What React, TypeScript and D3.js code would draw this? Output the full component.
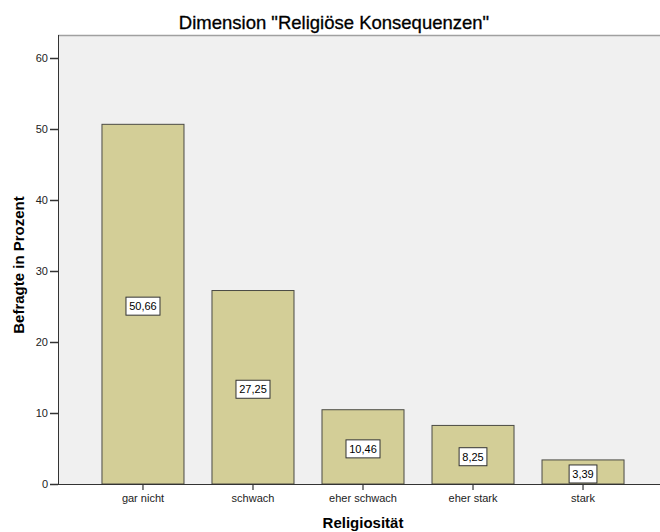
import React, { useEffect, useRef } from "react";
import * as d3 from "d3";

const categories = ["gar nicht", "schwach", "eher schwach", "eher stark", "stark"];
const values = [50.66, 27.25, 10.46, 8.25, 3.39];
const yTicks = [0, 10, 20, 30, 40, 50, 60];

const W = 660;
const H = 532;

export default function App() {
  const ref = useRef<SVGSVGElement>(null);

  useEffect(() => {
    const svg = d3.select(ref.current);
    svg.selectAll("*").remove();

    const left = 58;
    const top = 35;
    const bottom = 484;

    const y = d3.scaleLinear().domain([0, 60]).range([bottom, 58]);
    const x = d3
      .scaleBand()
      .domain(categories)
      .range([88, 638])
      .paddingInner(0.2545)
      .paddingOuter(0.127);

    // plot background
    svg
      .append("rect")
      .attr("x", left)
      .attr("y", top)
      .attr("width", W - left)
      .attr("height", bottom - top)
      .attr("fill", "#f0f0f0");
    svg
      .append("line")
      .attr("x1", left)
      .attr("x2", W)
      .attr("y1", top + 0.5)
      .attr("y2", top + 0.5)
      .attr("stroke", "#a0a0a0")
      .attr("stroke-width", 1.5);

    // bars
    const g = svg.append("g");
    g.selectAll("rect.bar")
      .data(values)
      .join("rect")
      .attr("class", "bar")
      .attr("x", (d, i) => x(categories[i])!)
      .attr("y", (d) => y(d))
      .attr("width", x.bandwidth())
      .attr("height", (d) => bottom - y(d))
      .attr("fill", "#d3ce97")
      .attr("stroke", "#4a4a44")
      .attr("stroke-width", 1);

    // value labels
    const fmt = (v: number) => v.toFixed(2).replace(".", ",");
    const lab = g
      .selectAll("g.lab")
      .data(values)
      .join("g")
      .attr("class", "lab")
      .attr(
        "transform",
        (d, i) => `translate(${x(categories[i])! + x.bandwidth() / 2},${(y(d) + bottom) / 2 + 2})`
      );
    lab.each(function (d) {
      const s = d3.select(this);
      const txt = fmt(d);
      const w = txt.length * 6.2 + 3;
      s.append("rect")
        .attr("x", -w / 2)
        .attr("y", -9)
        .attr("width", w)
        .attr("height", 18)
        .attr("fill", "#ffffff")
        .attr("stroke", "#333")
        .attr("stroke-width", 1);
      s.append("text")
        .attr("text-anchor", "middle")
        .attr("y", 4)
        .attr("font-family", "Arial, 'Liberation Sans', sans-serif")
        .attr("font-size", 11)
        .attr("fill", "#000")
        .text(txt);
    });

    // y axis
    const yAxis = svg
      .append("g")
      .attr("transform", `translate(${left},0)`)
      .call(d3.axisLeft(y).tickValues(yTicks).tickSize(8).tickPadding(2).tickSizeOuter(0));
    yAxis.select(".domain").attr("stroke", "#333").attr("d", `M0.5,${top}V${bottom}`);
    yAxis.selectAll(".tick line").attr("stroke", "#333").attr("stroke-width", 1.5);
    yAxis
      .selectAll("text")
      .attr("font-family", "Arial, 'Liberation Sans', sans-serif")
      .attr("font-size", 11)
      .attr("fill", "#222");

    // x axis
    const xAxis = svg
      .append("g")
      .attr("transform", `translate(0,${bottom})`)
      .call(d3.axisBottom(x).tickSize(6).tickPadding(4).tickSizeOuter(0));
    xAxis.select(".domain").attr("stroke", "#333").attr("d", `M${left},0.5H${W}`);
    xAxis.selectAll(".tick line").attr("stroke", "#333").attr("stroke-width", 1.2);
    xAxis
      .selectAll("text")
      .attr("font-family", "Arial, 'Liberation Sans', sans-serif")
      .attr("font-size", 11)
      .attr("fill", "#222");

    // title and axis labels
    svg
      .append("text")
      .attr("x", 334)
      .attr("y", 29)
      .attr("text-anchor", "middle")
      .attr("font-family", "Arial, 'Liberation Sans', sans-serif")
      .attr("font-size", 18.5)
      .attr("fill", "#000")
      .attr("stroke", "#000")
      .attr("stroke-width", 0.3)
      .text('Dimension "Religiöse Konsequenzen"');
    svg
      .append("text")
      .attr("x", 363)
      .attr("y", 528)
      .attr("text-anchor", "middle")
      .attr("font-family", "Arial, 'Liberation Sans', sans-serif")
      .attr("font-size", 15)
      .attr("font-weight", "bold")
      .attr("fill", "#000")
      .text("Religiosität");
    svg
      .append("text")
      .attr("transform", `translate(24,265) rotate(-90)`)
      .attr("text-anchor", "middle")
      .attr("font-family", "Arial, 'Liberation Sans', sans-serif")
      .attr("font-size", 15)
      .attr("font-weight", "bold")
      .attr("fill", "#000")
      .text("Befragte in Prozent");
  }, []);

  return (
    <svg
      ref={ref}
      width={W}
      height={H}
      style={{ position: "absolute", left: 0, top: 0, background: "#fff" }}
    />
  );
}
